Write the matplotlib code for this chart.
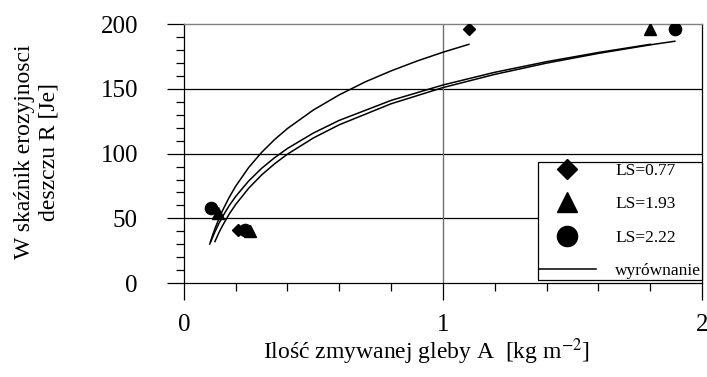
import numpy as np
import matplotlib
matplotlib.use("Agg")
import matplotlib.pyplot as plt
from matplotlib.ticker import MultipleLocator

plt.rcParams["font.family"] = ["Liberation Serif", "DejaVu Serif"]
plt.rcParams["mathtext.fontset"] = "stix"

# measured points
ls077_x = [1.10, 0.21]
ls077_y = [196, 41]
ls193_x = [1.80, 0.255, 0.13]
ls193_y = [196, 40, 54]
ls222_x = [1.895, 0.235, 0.105]
ls222_y = [196, 41, 58]

# fitted curves
fit077_x = [0.10, 0.11, 0.12, 0.135, 0.15, 0.175, 0.20, 0.25, 0.30, 0.35, 0.40, 0.50, 0.60, 0.70, 0.80, 0.90, 1.00, 1.10]
fit077_y = [30.2, 36.4, 42.0, 49.5, 56.3, 66.2, 74.8, 89.2, 100.9, 110.8, 119.4, 133.7, 145.4, 155.4, 163.9, 171.5, 178.3, 184.4]
fit193_x = [0.104, 0.12, 0.135, 0.15, 0.175, 0.20, 0.25, 0.30, 0.35, 0.40, 0.50, 0.60, 0.80, 1.00, 1.20, 1.40, 1.60, 1.80]
fit193_y = [32.0, 39.6, 45.9, 51.5, 59.8, 66.9, 78.8, 88.6, 96.8, 104.0, 115.9, 125.7, 141.1, 153.0, 162.8, 171.0, 178.1, 184.4]
fit222_x = [0.12, 0.135, 0.15, 0.175, 0.20, 0.25, 0.30, 0.35, 0.40, 0.50, 0.60, 0.80, 1.00, 1.20, 1.40, 1.60, 1.80, 1.895]
fit222_y = [32.1, 38.8, 44.6, 53.3, 60.7, 73.2, 83.5, 92.1, 99.6, 112.1, 122.3, 138.5, 151.0, 161.2, 169.9, 177.4, 184.0, 186.8]

fig = plt.figure(figsize=(7.07, 3.77), dpi=100)
ax = fig.add_axes([0.260, 0.249, 0.733, 0.687])

ax.set_xlim(0, 2)
ax.set_ylim(0, 200)

ax.axhline(50, color="black", lw=0.9, zorder=1)
ax.axhline(100, color="black", lw=0.9, zorder=1)
ax.axhline(150, color="black", lw=0.9, zorder=1)
ax.axvline(1, color="#707070", lw=1.0, zorder=1)

fit_line, = ax.plot(fit077_x, fit077_y, color="black", lw=1.1, zorder=3)
ax.plot(fit193_x, fit193_y, color="black", lw=1.1, zorder=3)
ax.plot(fit222_x, fit222_y, color="black", lw=1.1, zorder=3)

h1, = ax.plot(ls077_x, ls077_y, "D", color="black", ms=6.2, ls="none", zorder=4)
h2, = ax.plot(ls193_x, ls193_y, "^", color="black", ms=8.6, ls="none", zorder=4)
h3, = ax.plot(ls222_x, ls222_y, "o", color="black", ms=8.8, ls="none", zorder=4)

ax.set_xticks([0, 1, 2])
ax.set_xticklabels(["0", "1", "2"])
ax.xaxis.set_minor_locator(MultipleLocator(0.2))
ax.set_yticks([0, 50, 100, 150, 200])
ax.yaxis.set_minor_locator(MultipleLocator(10))
ax.tick_params(axis="both", which="major", direction="out", length=12, width=0.9,
               labelsize=18, color="black")
ax.tick_params(axis="x", which="major", pad=10)
ax.tick_params(axis="y", which="major", pad=21)
ax.tick_params(axis="both", which="minor", direction="out", length=6, width=0.9, color="black")

for s in ["left", "bottom", "right"]:
    ax.spines[s].set_color("black")
    ax.spines[s].set_linewidth(0.9)
ax.spines["top"].set_color("#808080")
ax.spines["top"].set_linewidth(1.0)

leg = ax.legend([h1, h2, h3, fit_line], ["LS=0.77", "LS=1.93", "LS=2.22", "wyrównanie"],
                loc="lower right", bbox_to_anchor=(1.0, 0.012), borderaxespad=0,
                fontsize=12.5, borderpad=0.05, handlelength=3.3, handletextpad=1.1,
                labelspacing=1.0, markerscale=1.65, fancybox=False, framealpha=1,
                edgecolor="black")
leg.get_frame().set_linewidth(0.9)
leg.set_zorder(5)

fig.text(0.052, 0.597, "W skaźnik erozyjnosci\ndeszczu R [Je]", rotation=90,
         ha="center", va="center", multialignment="center", fontsize=17, linespacing=1.25)
fig.text(0.603, 0.068, "Ilość zmywanej gleby A  [kg m$^{-2}$]", ha="center", va="center",
         fontsize=17)

fig.savefig("out.png", dpi=100)
